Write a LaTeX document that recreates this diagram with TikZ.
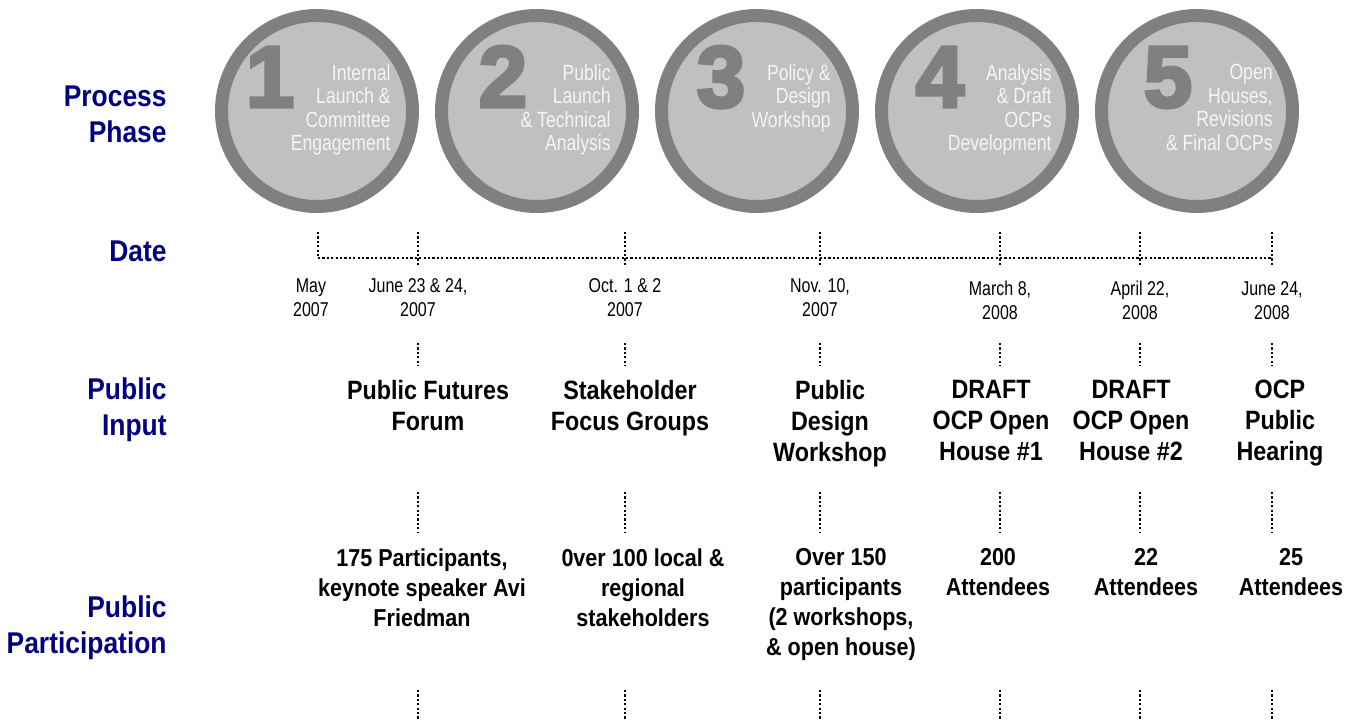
\documentclass[tikz,border=0pt]{standalone}
\usepackage{fontspec}
\setmainfont{Liberation Sans}[UprightFeatures={FakeStretch=0.80}, BoldFeatures={FakeStretch=0.88}]
\newfontfamily\phasefont{Liberation Sans}[BoldFeatures={FakeBold=4}]
\usepackage{tikz}
\definecolor{labelblue}{RGB}{0,0,128}
\definecolor{ringgray}{RGB}{128,128,128}
\definecolor{discgray}{RGB}{192,192,192}
\tikzstyle{phase} = [circle, minimum size=95.5pt, inner sep=0pt, draw=ringgray, line width=6.5pt, fill=discgray]
\tikzstyle{phasenum} = [anchor=base, inner sep=0pt, text=ringgray, font=\phasefont\bfseries\fontsize{43.5}{43.5}\selectfont]
\tikzstyle{phasetext} = [anchor=north east, inner sep=0pt, align=right, text=white!96!black, font=\fontsize{11}{11.75}\selectfont]
\tikzstyle{rowlabel} = [anchor=north east, inner sep=0pt, align=right, text=labelblue, font=\bfseries\fontsize{15}{18.3}\selectfont]
\tikzstyle{datetext} = [anchor=north, inner sep=0pt, align=center, font=\fontsize{10}{12}\selectfont]
\tikzstyle{inputtext} = [anchor=north, inner sep=0pt, align=center, font=\bfseries\fontsize{13.25}{15.5}\selectfont]
\tikzstyle{parttext} = [anchor=north, inner sep=0pt, align=center, font=\bfseries\fontsize{12.25}{15}\selectfont]
\tikzstyle{dotline} = [line width=1.3pt, dash pattern=on 1.1pt off 1.1pt]

\begin{document}
\begin{tikzpicture}[x=0.5pt, y=-0.5pt]
	\useasboundingbox (0,0) rectangle (1356,721);

	% row labels
	\node (lprocess) [rowlabel] at (167,85) {Process\\Phase};
	\node (ldate) [rowlabel] at (167,240) {Date};
	\node (linput) [rowlabel] at (167,377) {Public\\Input};
	\node (lpart) [rowlabel] at (167,595) {Public\\Participation};

	% phases
	\node (phase1) [phase] at (317,111) {};
	\node (phase2) [phase] at (537,111) {};
	\node (phase3) [phase] at (757,111) {};
	\node (phase4) [phase] at (977,111) {};
	\node (phase5) [phase] at (1197,111) {};
	\node (num1) [phasenum] at (270,107) {1};
	\node (num2) [phasenum] at (503,107) {2};
	\node (num3) [phasenum] at (721,107) {3};
	\node (num4) [phasenum] at (940,107) {4};
	\node (num5) [phasenum] at (1168,107) {5};
	\node (txt1) [phasetext] at (391,64) {Internal\\Launch \&\\Committee\\Engagement};
	\node (txt2) [phasetext] at (611,64) {Public\\Launch\\\& Technical\\Analysis};
	\node (txt3) [phasetext] at (831,64) {Policy \&\\Design\\Workshop};
	\node (txt4) [phasetext] at (1052,64) {Analysis\\\& Draft\\OCPs\\Development};
	\node (txt5) [phasetext] at (1273,64) {Open\\Houses,\\Revisions\\\& Final OCPs};

	% dates
	\node (date1) [datetext] at (311,278) {May\\2007};
	\node (date2) [datetext] at (418,278) {June 23 \& 24,\\2007};
	\node (date3) [datetext] at (625,278) {Oct. 1 \& 2\\2007};
	\node (date4) [datetext] at (820,278) {Nov. 10,\\2007};
	\node (date5) [datetext] at (1000,281) {March 8,\\2008};
	\node (date6) [datetext] at (1140,281) {April 22,\\2008};
	\node (date7) [datetext] at (1272,281) {June 24,\\2008};

	% public input
	\node (input2) [inputtext] at (428,380) {Public Futures\\Forum};
	\node (input3) [inputtext] at (630,380) {Stakeholder\\Focus Groups};
	\node (input4) [inputtext] at (830,380) {Public\\Design\\Workshop};
	\node (input5) [inputtext] at (991,380) {DRAFT\\OCP Open\\House \#1};
	\node (input6) [inputtext] at (1131,380) {DRAFT\\OCP Open\\House \#2};
	\node (input7) [inputtext] at (1280,380) {OCP\\Public\\Hearing};

	% public participation
	\node (part2) [parttext] at (422,548) {175 Participants,\\keynote speaker Avi\\Friedman};
	\node (part3) [parttext] at (643,548) {0ver 100 local \&\\regional\\stakeholders};
	\node (part4) [parttext] at (841,548) {Over 150\\participants\\(2 workshops,\\\& open house)};
	\node (part5) [parttext] at (998,548) {200\\Attendees};
	\node (part6) [parttext] at (1146,548) {22\\Attendees};
	\node (part7) [parttext] at (1291,548) {25\\Attendees};

	% tick ends
	\coordinate (d1t) at (318,232); \coordinate (d1b) at (318,258);
	\coordinate (d2t) at (418,232); \coordinate (d2b) at (418,266);
	\coordinate (d3t) at (625,232); \coordinate (d3b) at (625,266);
	\coordinate (d4t) at (820,232); \coordinate (d4b) at (820,266);
	\coordinate (d5t) at (1000,232); \coordinate (d5b) at (1000,266);
	\coordinate (d6t) at (1140,232); \coordinate (d6b) at (1140,266);
	\coordinate (d7t) at (1272,232); \coordinate (d7b) at (1272,266);
	\coordinate (lineR) at (1272,258);
	\coordinate (i2t) at (418,343); \coordinate (i2b) at (418,366);
	\coordinate (i3t) at (625,343); \coordinate (i3b) at (625,366);
	\coordinate (i4t) at (820,343); \coordinate (i4b) at (820,366);
	\coordinate (i5t) at (1000,343); \coordinate (i5b) at (1000,366);
	\coordinate (i6t) at (1140,343); \coordinate (i6b) at (1140,366);
	\coordinate (i7t) at (1272,343); \coordinate (i7b) at (1272,366);
	\coordinate (p2t) at (418,492); \coordinate (p2b) at (418,532);
	\coordinate (p3t) at (625,492); \coordinate (p3b) at (625,532);
	\coordinate (p4t) at (820,492); \coordinate (p4b) at (820,532);
	\coordinate (p5t) at (1000,492); \coordinate (p5b) at (1000,532);
	\coordinate (p6t) at (1140,492); \coordinate (p6b) at (1140,532);
	\coordinate (p7t) at (1272,492); \coordinate (p7b) at (1272,532);
	\coordinate (e2t) at (418,690); \coordinate (e2b) at (418,721);
	\coordinate (e3t) at (625,690); \coordinate (e3b) at (625,721);
	\coordinate (e4t) at (820,690); \coordinate (e4b) at (820,721);
	\coordinate (e5t) at (1000,690); \coordinate (e5b) at (1000,721);
	\coordinate (e6t) at (1140,690); \coordinate (e6b) at (1140,721);
	\coordinate (e7t) at (1272,690); \coordinate (e7b) at (1272,721);

	% timeline
	\draw [dotline](d1b) -- (lineR);
	\draw [dotline](d1t) -- (d1b);
	\draw [dotline](d2t) -- (d2b);
	\draw [dotline](d3t) -- (d3b);
	\draw [dotline](d4t) -- (d4b);
	\draw [dotline](d5t) -- (d5b);
	\draw [dotline](d6t) -- (d6b);
	\draw [dotline](d7t) -- (d7b);

	\draw [dotline](i2t) -- (i2b);
	\draw [dotline](i3t) -- (i3b);
	\draw [dotline](i4t) -- (i4b);
	\draw [dotline](i5t) -- (i5b);
	\draw [dotline](i6t) -- (i6b);
	\draw [dotline](i7t) -- (i7b);

	\draw [dotline](p2t) -- (p2b);
	\draw [dotline](p3t) -- (p3b);
	\draw [dotline](p4t) -- (p4b);
	\draw [dotline](p5t) -- (p5b);
	\draw [dotline](p6t) -- (p6b);
	\draw [dotline](p7t) -- (p7b);

	\draw [dotline](e2t) -- (e2b);
	\draw [dotline](e3t) -- (e3b);
	\draw [dotline](e4t) -- (e4b);
	\draw [dotline](e5t) -- (e5b);
	\draw [dotline](e6t) -- (e6b);
	\draw [dotline](e7t) -- (e7b);
\end{tikzpicture}
\end{document}
